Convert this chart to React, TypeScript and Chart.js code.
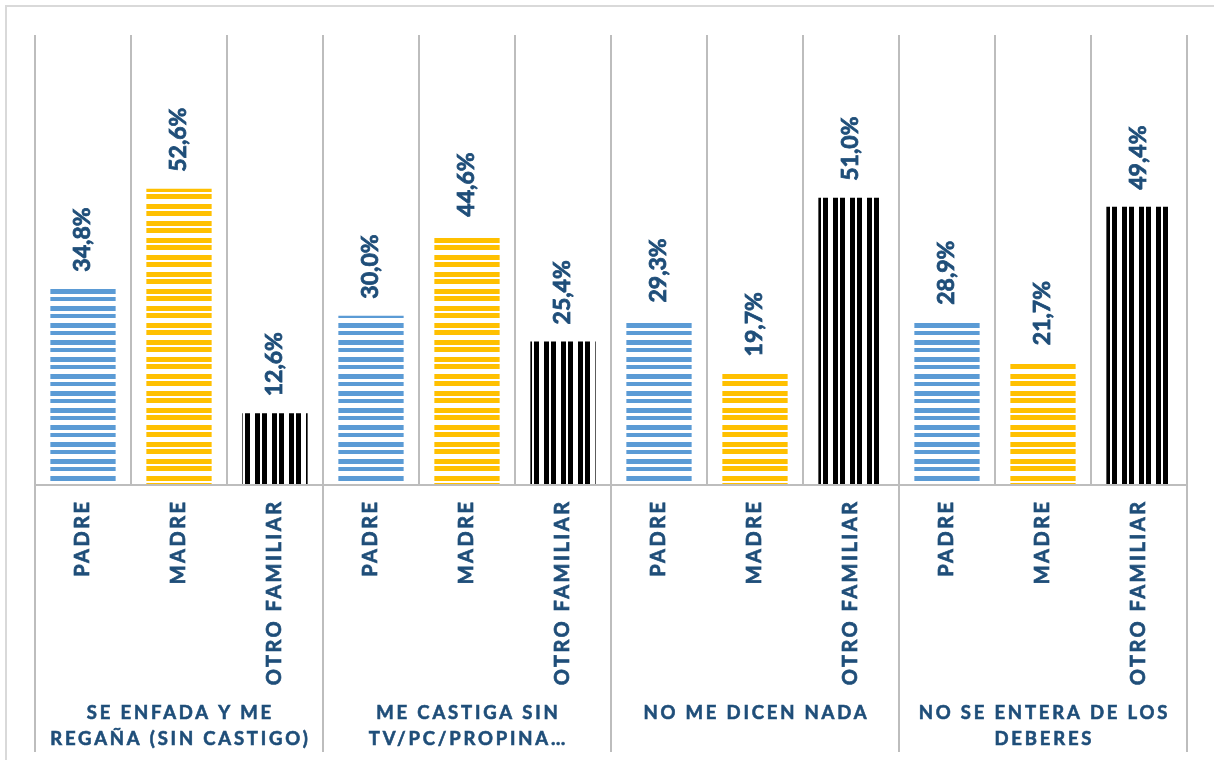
import React, { useEffect, useRef } from 'react';
import { Chart, registerables } from 'chart.js';
Chart.register(...registerables);

const categories = ['PADRE', 'MADRE', 'OTRO FAMILIAR'];
const groupLabels = [
  ['SE ENFADA Y ME', 'REGAÑA (SIN CASTIGO)'],
  ['ME CASTIGA SIN', 'TV/PC/PROPINA…'],
  ['NO ME DICEN NADA'],
  ['NO SE ENTERA DE LOS', 'DEBERES'],
];
const padre = [34.8, 30.0, 29.3, 28.9];
const madre = [52.6, 44.6, 19.7, 21.7];
const otro = [12.6, 25.4, 51.0, 49.4];

const BLUE = '#5B9BD5';
const YELLOW = '#FFC000';
const BLACK = '#000000';
const TEXT = '#1F4E79';
const GRID = '#BDBDBD';
const FONT = 'Lato, "Open Sans", sans-serif';

function stripePattern(ctx: CanvasRenderingContext2D, color: string, stripes: number[][], period: number, vertical: boolean) {
  const c = document.createElement('canvas');
  c.width = vertical ? period : 4;
  c.height = vertical ? 4 : period;
  const g = c.getContext('2d')!;
  g.fillStyle = '#FFFFFF';
  g.fillRect(0, 0, c.width, c.height);
  g.fillStyle = color;
  for (const [s, h] of stripes) {
    if (vertical) g.fillRect(s, 0, h, 4);
    else g.fillRect(0, s, 4, h);
  }
  return ctx.createPattern(c, 'repeat')!;
}

function fmt(v: number) {
  return v.toFixed(1).replace('.', ',') + '%';
}

function boldText(ctx: CanvasRenderingContext2D, t: string, x: number, y: number) {
  ctx.fillText(t, x, y);
  ctx.strokeText(t, x, y);
}

export default function App() {
  const ref = useRef<HTMLCanvasElement>(null);
  useEffect(() => {
    const canvas = ref.current!;
    const ctx0 = canvas.getContext('2d')!;
    const labels = groupLabels.flatMap(() => categories);
    const values = groupLabels.flatMap((_, i) => [padre[i], madre[i], otro[i]]);
    const pats = [
      stripePattern(ctx0, BLUE, [[0, 5], [8, 4]], 17, false),
      stripePattern(ctx0, YELLOW, [[0, 5], [7, 5]], 17, false),
      stripePattern(ctx0, BLACK, [[0, 5], [7, 5]], 17, true),
    ];
    const bg = groupLabels.flatMap(() => pats);

    const deco = {
      id: 'deco',
      beforeDraw(chart: any) {
        const ctx = chart.ctx as CanvasRenderingContext2D;
        ctx.save();
        ctx.fillStyle = '#FFFFFF';
        ctx.fillRect(0, 0, chart.width, chart.height);
        ctx.strokeStyle = '#D9D9D9';
        ctx.lineWidth = 2;
        ctx.strokeRect(6, 6, 1230, 780);
        ctx.restore();
      },
      beforeDatasetsDraw(chart: any) {
        const ctx = chart.ctx as CanvasRenderingContext2D;
        const x = chart.scales.x;
        const y = chart.scales.y;
        const area = chart.chartArea;
        const step = x.getPixelForValue(1) - x.getPixelForValue(0);
        const y0 = y.getPixelForValue(0);
        ctx.save();
        ctx.strokeStyle = GRID;
        ctx.lineWidth = 2;
        for (let i = 0; i <= labels.length; i++) {
          const px = Math.round(x.getPixelForValue(0) - step / 2 + i * step);
          const bottom = i % 3 === 0 ? 752 : y0;
          ctx.beginPath();
          ctx.moveTo(px, area.top);
          ctx.lineTo(px, bottom);
          ctx.stroke();
        }
        ctx.beginPath();
        ctx.moveTo(area.left, Math.round(y0) + 1);
        ctx.lineTo(area.right, Math.round(y0) + 1);
        ctx.stroke();
        ctx.restore();
      },
      afterDatasetsDraw(chart: any) {
        const ctx = chart.ctx as CanvasRenderingContext2D;
        const x = chart.scales.x;
        const y = chart.scales.y;
        ctx.save();
        ctx.fillStyle = TEXT;
        ctx.strokeStyle = TEXT;
        ctx.lineWidth = 0.8;
        ctx.font = `bold 23px ${FONT}`;
        ctx.textAlign = 'left';
        ctx.textBaseline = 'middle';
        values.forEach((v, i) => {
          const px = x.getPixelForValue(i);
          const py = y.getPixelForValue(v) - 17;
          ctx.save();
          ctx.translate(px, py);
          ctx.rotate(-Math.PI / 2);
          boldText(ctx, fmt(v), 0, 0);
          ctx.restore();
        });
        ctx.restore();
      },
      afterDraw(chart: any) {
        const ctx = chart.ctx as CanvasRenderingContext2D;
        const x = chart.scales.x;
        ctx.save();
        ctx.fillStyle = TEXT;
        ctx.strokeStyle = TEXT;
        ctx.lineWidth = 0.7;
        ctx.font = `bold 20px ${FONT}`;
        (ctx as any).letterSpacing = '2.5px';
        ctx.textAlign = 'right';
        ctx.textBaseline = 'middle';
        labels.forEach((lab, i) => {
          const px = x.getPixelForValue(i);
          ctx.save();
          ctx.translate(px, 502);
          ctx.rotate(-Math.PI / 2);
          boldText(ctx, lab, 2.5, 0);
          ctx.restore();
        });
        ctx.font = `bold 18.5px ${FONT}`;
        (ctx as any).letterSpacing = '2.8px';
        ctx.lineWidth = 0.6;
        ctx.textAlign = 'center';
        ctx.textBaseline = 'alphabetic';
        groupLabels.forEach((lines, gi) => {
          const cx = (x.getPixelForValue(gi * 3) + x.getPixelForValue(gi * 3 + 2)) / 2 + 1.4;
          lines.forEach((ln, li) => {
            boldText(ctx, ln, cx, 719 + li * 26);
          });
        });
        ctx.restore();
      },
    };

    const chart = new Chart(canvas, {
      type: 'bar',
      data: {
        labels,
        datasets: [
          {
            data: values,
            backgroundColor: bg as any,
            borderWidth: 0,
            barPercentage: 0.68,
            categoryPercentage: 1,
          },
        ],
      },
      options: {
        responsive: false,
        devicePixelRatio: 1,
        animation: false,
        layout: { padding: { left: 35, top: 35, right: 27, bottom: 276 } },
        plugins: { legend: { display: false }, tooltip: { enabled: false } },
        scales: {
          x: { display: false },
          y: { display: false, min: 0, max: 80 },
        },
      },
      plugins: [deco],
    });
    return () => chart.destroy();
  }, []);

  return (
    <div style={{ position: 'absolute', left: 0, top: 0, width: 1214, height: 760 }}>
      <canvas ref={ref} width={1214} height={760} style={{ display: 'block' }} />
    </div>
  );
}
